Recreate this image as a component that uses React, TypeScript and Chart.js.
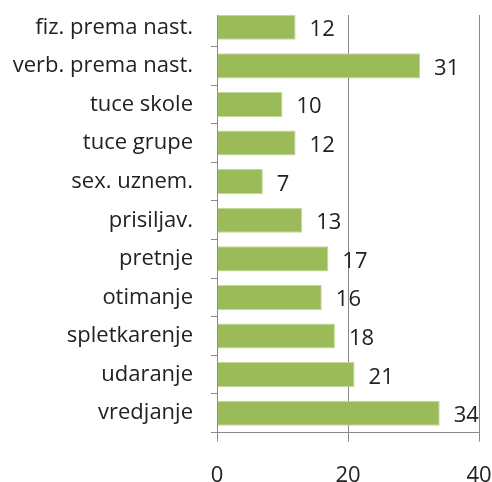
import React, { useEffect, useRef } from "react";
import { Chart, registerables } from "chart.js";

Chart.register(...registerables);

const categories = [
  "fiz. prema nast.",
  "verb. prema nast.",
  "tuce skole",
  "tuce grupe",
  "sex. uznem.",
  "prisiljav.",
  "pretnje",
  "otimanje",
  "spletkarenje",
  "udaranje",
  "vredjanje",
];
const values = [12, 31, 10, 12, 7, 13, 17, 16, 18, 21, 34];
const xTicks = [0, 20, 40];

const FONT = "'Open Sans', sans-serif";

const topMask = {
  id: "topMask",
  beforeDatasetsDraw(chart: any) {
    const ctx = chart.ctx;
    const a = chart.chartArea;
    ctx.save();
    ctx.fillStyle = "#fff";
    ctx.fillRect(a.left - 10, 0, chart.width - a.left + 10, 15);
    ctx.restore();
  },
};

const valueLabels = {
  id: "valueLabels",
  afterDatasetsDraw(chart: any) {
    const ctx = chart.ctx;
    const meta = chart.getDatasetMeta(0);
    ctx.save();
    ctx.font = `22px ${FONT}`;
    ctx.fillStyle = "#222";
    ctx.textAlign = "left";
    ctx.textBaseline = "alphabetic";
    meta.data.forEach((bar: any, i: number) => {
      ctx.fillText(String(values[i]), bar.x + 14, bar.y + 9);
    });
    ctx.restore();
  },
};

export default function App() {
  const ref = useRef<HTMLCanvasElement>(null);
  useEffect(() => {
    const chart = new Chart(ref.current!, {
      type: "bar",
      data: {
        labels: categories,
        datasets: [
          {
            data: values,
            backgroundColor: "#9BBB59",
            borderColor: "#C3D69B",
            borderWidth: 1,
            barPercentage: 0.65,
            categoryPercentage: 1,
          },
        ],
      },
      options: {
        indexAxis: "y",
        animation: false,
        responsive: false,
        layout: { padding: { top: 8, right: 13, left: 0, bottom: 0 } },
        plugins: { legend: { display: false }, tooltip: { enabled: false } },
        scales: {
          x: {
            min: 0,
            max: 40,
            afterBuildTicks: (s: any) => {
              s.ticks = xTicks.map((v) => ({ value: v }));
            },
            afterFit: (s: any) => {
              s.height = 49.5;
              s.paddingLeft = 0;
              s.paddingRight = 0;
            },
            border: { display: true, color: "#888", width: 1 },
            grid: { color: "#888", tickLength: 9, drawOnChartArea: true },
            ticks: {
              color: "#222",
              font: { family: FONT, size: 22 },
              padding: 21,
              maxRotation: 0,
            },
          },
          y: {
            afterFit: (s: any) => {
              s.width = 217;
              s.paddingTop = 0;
              s.paddingBottom = 0;
            },
            border: { display: true, color: "#888", width: 1 },
            grid: { offset: true, drawOnChartArea: false, color: "#888", tickLength: 6 },
            ticks: {
              color: "#222",
              font: { family: FONT, size: 22 },
              padding: 18,
            },
          },
        },
      },
      plugins: [topMask, valueLabels],
    });
    return () => chart.destroy();
  }, []);
  return (
    <div style={{ position: "fixed", left: 0, top: 0, width: 492, height: 482, background: "#fff" }}>
      <canvas ref={ref} width={492} height={482} />
    </div>
  );
}
